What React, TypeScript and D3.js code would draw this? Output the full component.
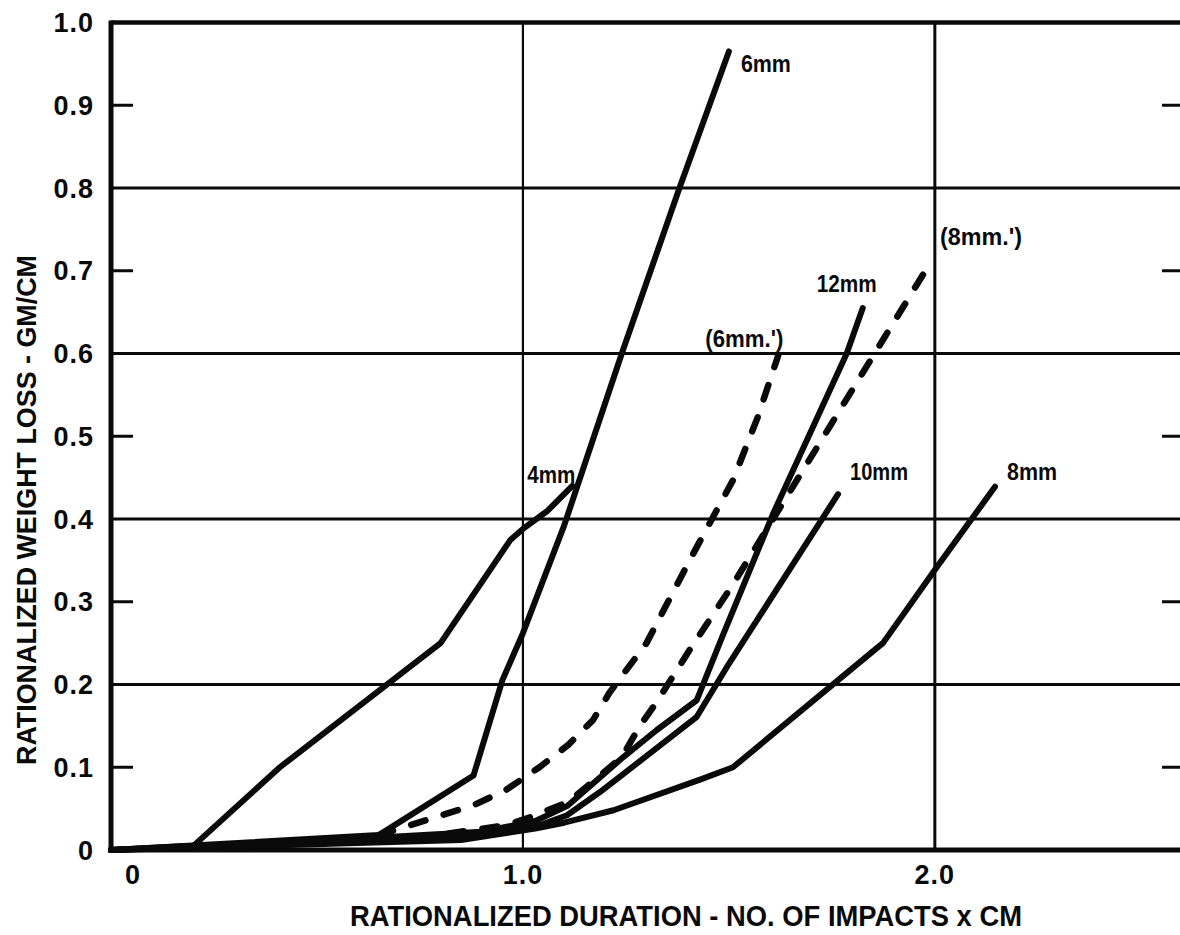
import React from 'react';
import * as d3 from 'd3';

type Pt = [number, number];

// Rationalized duration (impacts x cm) vs rationalized weight loss (gm/cm)
const solid4mm: Pt[] = [[0, 0], [0.2, 0.005], [0.41, 0.1], [0.8, 0.25], [0.97, 0.375], [1.0, 0.388], [1.06, 0.41], [1.12, 0.44]];
const solid6mm: Pt[] = [[0, 0], [0.65, 0.018], [0.88, 0.09], [0.95, 0.205], [1.0, 0.262], [1.1, 0.392], [1.24, 0.6], [1.38, 0.8], [1.5, 0.965]];
const solid8mm: Pt[] = [[0, 0], [0.85, 0.012], [1.03, 0.026], [1.1, 0.033], [1.22, 0.048], [1.43, 0.085], [1.51, 0.1], [1.859, 0.244], [1.874, 0.25], [2.005, 0.342], [2.146, 0.439]];
const solid10mm: Pt[] = [[0, 0], [0.85, 0.015], [1.03, 0.028], [1.107, 0.042], [1.187, 0.07], [1.252, 0.095], [1.422, 0.161], [1.5, 0.225], [1.765, 0.43]];
const solid12mm: Pt[] = [[0, 0], [0.65, 0.015], [0.9, 0.022], [1.03, 0.035], [1.107, 0.053], [1.243, 0.112], [1.325, 0.145], [1.422, 0.181], [1.485, 0.259], [1.607, 0.406], [1.786, 0.6], [1.825, 0.655]];
const dashed6mm: Pt[] = [[0.65, 0.018], [0.79, 0.04], [0.88, 0.054], [0.96, 0.073], [1.04, 0.1], [1.11, 0.127], [1.17, 0.157], [1.21, 0.19], [1.3, 0.25], [1.41, 0.355], [1.51, 0.447], [1.57, 0.523], [1.62, 0.598]];
const dashed8mm: Pt[] = [[0.82, 0.02], [0.96, 0.03], [1.02, 0.04], [1.11, 0.058], [1.24, 0.112], [1.284, 0.15], [1.325, 0.179], [1.405, 0.242], [1.51, 0.321], [1.76, 0.524], [1.993, 0.713]];

const X_TICKS = [0, 1.0, 2.0];
const X_TICK_LABELS = ['0', '1.0', '2.0'];
const Y_TICKS = [1.0, 0.9, 0.8, 0.7, 0.6, 0.5, 0.4, 0.3, 0.2, 0.1, 0];
const Y_TICK_LABELS = ['1.0', '0.9', '0.8', '0.7', '0.6', '0.5', '0.4', '0.3', '0.2', '0.1', '0'];
const GRID_Y = [0.2, 0.4, 0.6, 0.8];
const MINOR_Y = [0.1, 0.3, 0.5, 0.7, 0.9];
const GRID_X = [1.0, 2.0];

const X_TITLE = 'RATIONALIZED DURATION - NO. OF IMPACTS x CM';
const Y_TITLE = 'RATIONALIZED WEIGHT LOSS - GM/CM';

interface Curve {
  label: string;
  data: Pt[];
  dashed: boolean;
  dx: number;
  dy: number;
  anchor: 'start' | 'middle' | 'end';
  len: number;
}

const curves: Curve[] = [
  { label: '4mm', data: solid4mm, dashed: false, dx: 3, dy: -3, anchor: 'end', len: 48 },
  { label: '6mm', data: solid6mm, dashed: false, dx: 12, dy: 21, anchor: 'start', len: 50 },
  { label: '8mm', data: solid8mm, dashed: false, dx: 12, dy: -7, anchor: 'start', len: 50 },
  { label: '10mm', data: solid10mm, dashed: false, dx: 12, dy: -14, anchor: 'start', len: 58 },
  { label: '12mm', data: solid12mm, dashed: false, dx: -16, dy: -16, anchor: 'middle', len: 60 },
  { label: "(6mm.')", data: dashed6mm, dashed: true, dx: 5, dy: -8, anchor: 'end', len: 78 },
  { label: "(8mm.')", data: dashed8mm, dashed: true, dx: 8, dy: -15, anchor: 'start', len: 82 },
];

const W = 1180;
const H = 935;
const FONT = '"Liberation Sans", Arial, Helvetica, sans-serif';

const x = d3.scaleLinear().domain([0, 2.6]).range([111, 1182]);
const y = d3.scaleLinear().domain([0, 1]).range([850, 22.5]);

const line = d3
  .line<Pt>()
  .x((d) => x(d[0]))
  .y((d) => y(d[1]))
  .curve(d3.curveLinear);

export default function App() {
  const x0 = x(0);
  const xMax = x(2.6);
  const ink = '#0a0a0a';

  return (
    <svg
      width={W}
      height={H}
      viewBox={`0 0 ${W} ${H}`}
      style={{ position: 'absolute', left: 0, top: 0, background: '#fff' }}
    >
      <rect x={0} y={0} width={W} height={H} fill="#fff" />

      {/* horizontal grid lines */}
      {GRID_Y.map((v) => (
        <line key={`gy${v}`} x1={x0} x2={xMax} y1={y(v)} y2={y(v)} stroke={ink} strokeWidth={3} />
      ))}
      {/* vertical grid lines */}
      {GRID_X.map((v, i) => (
        <line key={`gx${v}`} x1={x(v)} x2={x(v)} y1={y(1)} y2={y(0)} stroke={ink} strokeWidth={i === 0 ? 2.2 : 3} />
      ))}
      {/* minor ticks on both sides */}
      {MINOR_Y.map((v) => (
        <g key={`mt${v}`}>
          <line x1={x0} x2={x0 + 22} y1={y(v)} y2={y(v)} stroke={ink} strokeWidth={3} />
          <line x1={xMax - 20} x2={xMax} y1={y(v)} y2={y(v)} stroke={ink} strokeWidth={3} />
        </g>
      ))}

      {/* frame */}
      <line x1={x0} x2={xMax} y1={y(1)} y2={y(1)} stroke={ink} strokeWidth={4.5} />
      <line x1={x0} x2={xMax} y1={y(0)} y2={y(0)} stroke={ink} strokeWidth={5} />
      <line x1={x0} x2={x0} y1={y(1) - 2} y2={y(0) + 2.5} stroke={ink} strokeWidth={5} />

      {/* curves */}
      {curves.map((c) => (
        <path
          key={c.label}
          d={line(c.data) || ''}
          fill="none"
          stroke={ink}
          strokeWidth={c.dashed ? 6.5 : 6}
          strokeLinecap="round"
          strokeLinejoin="round"
          strokeDasharray={c.dashed ? '15 19' : undefined}
        />
      ))}

      {/* curve labels */}
      {curves.map((c) => {
        const last = c.data[c.data.length - 1];
        return (
          <text
            key={`l${c.label}`}
            x={x(last[0]) + c.dx}
            y={y(last[1]) + c.dy}
            textAnchor={c.anchor}
            fontFamily={FONT}
            fontWeight="bold"
            fontSize={24}
            textLength={c.len}
            lengthAdjust="spacingAndGlyphs"
            fill={ink}
          >
            {c.label}
          </text>
        );
      })}

      {/* y tick labels */}
      {Y_TICKS.map((v, i) => (
        <text
          key={`yt${v}`}
          x={x0 - 17}
          y={y(v)}
          dy="0.36em"
          textAnchor="end"
          fontFamily={FONT}
          fontWeight="bold"
          fontSize={27}
          letterSpacing={1}
          fill={ink}
        >
          {Y_TICK_LABELS[i]}
        </text>
      ))}

      {/* x tick labels */}
      {X_TICKS.map((v, i) => (
        <text
          key={`xt${v}`}
          x={x(v) + (v === 0 ? 22 : 0)}
          y={y(0) + 34}
          textAnchor="middle"
          fontFamily={FONT}
          fontWeight="bold"
          fontSize={27}
          letterSpacing={1}
          fill={ink}
        >
          {X_TICK_LABELS[i]}
        </text>
      ))}

      {/* axis titles */}
      <text
        x={686}
        y={926}
        textAnchor="middle"
        fontFamily={FONT}
        fontWeight="bold"
        fontSize={29}
        textLength={672}
        lengthAdjust="spacingAndGlyphs"
        fill={ink}
      >
        {X_TITLE}
      </text>
      <text
        transform="translate(36,510) rotate(-90)"
        x={0}
        y={0}
        textAnchor="middle"
        fontFamily={FONT}
        fontWeight="bold"
        fontSize={28}
        textLength={510}
        lengthAdjust="spacingAndGlyphs"
        fill={ink}
      >
        {Y_TITLE}
      </text>
    </svg>
  );
}
